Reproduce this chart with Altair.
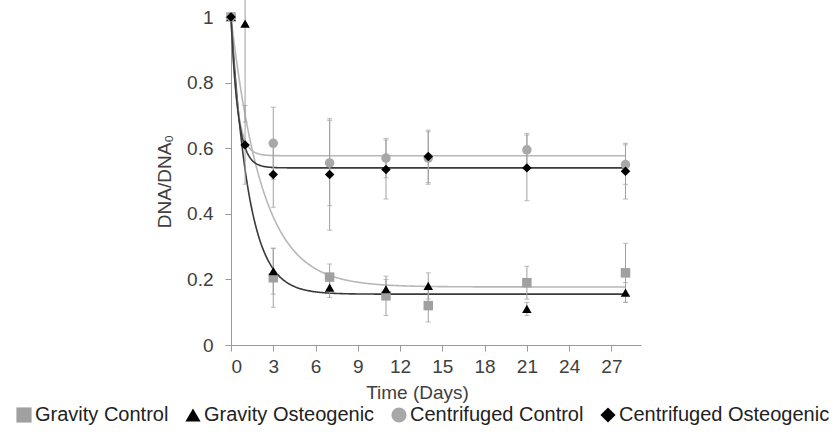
import altair as alt
import pandas as pd

days = [0, 1, 3, 7, 11, 14, 21, 28]
series_names = ["Gravity Control", "Gravity Osteogenic", "Centrifuged Control", "Centrifuged Osteogenic"]

gravity_control = [1.0, None, 0.205, 0.207, 0.150, 0.120, 0.190, 0.220]
gravity_control_err = [0.0, None, 0.09, 0.04, 0.06, 0.05, 0.05, 0.09]
gravity_osteo = [1.0, 0.98, 0.225, 0.175, 0.170, 0.180, 0.110, 0.160]
gravity_osteo_err = [0.0, 0.30, 0.07, 0.03, 0.03, 0.04, 0.02, 0.03]
centr_control = [1.0, None, 0.615, 0.555, 0.570, 0.570, 0.595, 0.550]
centr_control_err = [0.0, None, 0.11, 0.13, 0.06, 0.08, 0.05, 0.06]
centr_osteo = [1.0, 0.61, 0.520, 0.520, 0.535, 0.575, 0.540, 0.530]
centr_osteo_err = [0.0, 0.12, 0.10, 0.17, 0.09, 0.08, 0.10, 0.085]

# exponential-decay fit parameters (plateau, rate)
fit_plateau = [0.177, 0.155, 0.577, 0.540]
fit_rate = [0.45, 0.80, 2.2, 2.0]

colors = ["#a0a0a0", "#000000", "#a8a8a8", "#000000"]
shapes = ["square", "triangle-up", "circle", "diamond"]
curve_colors = ["#b8b8b8", "#3a3a3a", "#b8b8b8", "#3a3a3a"]

rows = []
for name, vals, errs in zip(series_names,
                            [gravity_control, gravity_osteo, centr_control, centr_osteo],
                            [gravity_control_err, gravity_osteo_err, centr_control_err, centr_osteo_err]):
    for d, v, e in zip(days, vals, errs):
        if v is None:
            continue
        rows.append({"series": name, "day": d, "value": v, "lo": v - e, "hi": v + e})
df = pd.DataFrame(rows)

FONT = "Liberation Sans"
FS = 19
xscale = alt.Scale(domain=[0, 29.1], nice=False, zero=False)
yscale = alt.Scale(domain=[0, 1], nice=False)

xaxis = alt.Axis(values=list(range(0, 28, 3)), title="Time (Days)", grid=False,
                 labelFont=FONT, titleFont=FONT, labelFontSize=FS, titleFontSize=FS,
                 titleFontWeight="normal", labelColor="#404040", titleColor="#404040",
                 domainColor="#999", tickColor="#999", tickSize=6, labelPadding=6, titlePadding=7,
                 titleX=186)
yaxis = alt.Axis(values=[0, 0.2, 0.4, 0.6, 0.8, 1.0], format=".1~f", title="DNA/DNA₀", grid=False,
                 labelFont=FONT, titleFont=FONT, labelFontSize=FS, titleFontSize=FS,
                 titleFontWeight="normal", labelColor="#404040", titleColor="#404040",
                 domainColor="#999", tickColor="#999", tickSize=6, labelPadding=12, titlePadding=12)

layers = []
for i, (p, k, c) in enumerate(zip(fit_plateau, fit_rate, curve_colors)):
    curve = alt.Chart(alt.sequence(0, 28.02, 0.05, as_="t")).transform_calculate(
        v=f"{p} + {1 - p} * exp(-{k} * datum.t)"
    ).mark_line(color=c, strokeWidth=1.6).encode(
        x=alt.X("t:Q", scale=xscale, axis=xaxis),
        y=alt.Y("v:Q", scale=yscale, axis=yaxis),
    )
    layers.append(curve)

base = alt.Chart(df)
err = base.mark_errorbar(ticks=alt.TickConfig(size=5, thickness=1), color="#a0a0a0", thickness=1).encode(
    x=alt.X("day:Q", scale=xscale),
    y=alt.Y("lo:Q", scale=yscale, title="DNA/DNA₀"),
    y2="hi:Q",
)
layers.append(err)

legend = alt.Legend(title=None, orient="none", direction="horizontal",
                    legendX=-217, legendY=388, labelFont=FONT, labelFontSize=20,
                    labelColor="#222", symbolSize=230, columnPadding=14, labelLimit=0,
                    labelOffset=1, padding=0, symbolStrokeWidth=0, symbolOpacity=1)
pts = base.mark_point(filled=True, size=90, opacity=1).encode(
    x=alt.X("day:Q", scale=xscale),
    y=alt.Y("value:Q", scale=yscale),
    color=alt.Color("series:N", scale=alt.Scale(domain=series_names, range=colors), legend=legend),
    shape=alt.Shape("series:N", scale=alt.Scale(domain=series_names, range=shapes), legend=legend),
)
layers.append(pts)

chart = alt.layer(*layers).properties(
    width=410, height=328,
    autosize=alt.AutoSizeParams(type="none"),
    padding={"left": 231, "top": 17, "right": 196, "bottom": 92},
).configure_view(stroke=None)

chart.save("out.html", embed_options={"renderer": "svg", "actions": False})
